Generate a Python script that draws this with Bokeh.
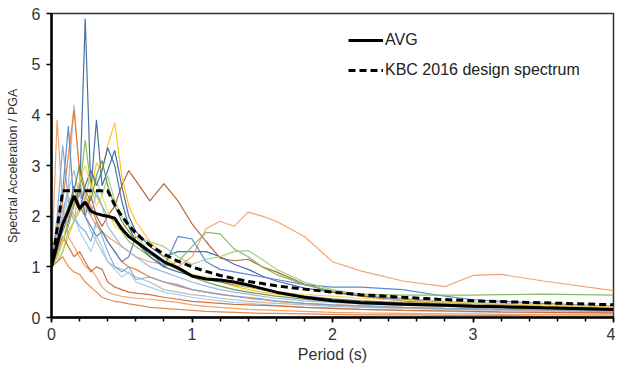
from bokeh.plotting import figure
from bokeh.models import Range1d, Legend, LegendItem, FixedTicker
from bokeh.embed import file_html
from bokeh.resources import INLINE

# Period grid (s)
period = [0, 0.04, 0.08, 0.12, 0.16, 0.2, 0.24, 0.28, 0.32, 0.36, 0.4, 0.45, 0.5, 0.55, 0.6,
          0.7, 0.8, 0.9, 1.0, 1.1, 1.2, 1.3, 1.4, 1.5, 1.6, 1.8, 2.0, 2.2, 2.5, 2.8, 3.0, 3.2, 3.5, 4.0]

# Individual ground-motion spectra (Sa / PGA)
gm01 = [1.0, 1.2, 1.5, 1.9, 2.3, 2.4, 5.9, 2.5, 3.9, 2.6, 2.9, 3.3, 2.6, 2.0, 1.7, 1.4, 1.2, 1.3, 1.3, 1.3,
        1.2, 1.05, 0.95, 0.82, 0.72, 0.58, 0.5, 0.43, 0.36, 0.3, 0.27, 0.25, 0.22, 0.18]
gm02 = [1.0, 1.3, 1.8, 2.2, 1.9, 2.6, 2.3, 2.0, 1.8, 1.7, 1.6, 1.5, 1.4, 1.3, 1.2, 1.1, 1.05, 1.0, 1.2, 1.75,
        1.9, 1.8, 2.08, 2.0, 1.9, 1.6, 1.1, 0.92, 0.72, 0.61, 0.83, 0.85, 0.72, 0.53]
gm03 = [1.0, 1.4, 1.9, 2.1, 2.6, 2.2, 2.0, 2.4, 2.0, 1.8, 2.0, 2.2, 2.6, 2.9, 2.7, 2.3, 2.64, 2.3, 1.85, 1.5,
        1.17, 1.12, 1.15, 1.0, 0.9, 0.66, 0.5, 0.42, 0.33, 0.27, 0.24, 0.22, 0.2, 0.16]
gm04 = [1.0, 1.1, 1.3, 1.6, 1.9, 2.2, 2.1, 2.5, 3.05, 2.9, 3.4, 3.84, 2.8, 2.2, 1.9, 1.5, 1.2, 1.0, 0.85, 0.75,
        0.7, 0.62, 0.55, 0.5, 0.46, 0.4, 0.36, 0.33, 0.3, 0.27, 0.25, 0.24, 0.22, 0.2]
gm05 = [1.0, 1.5, 2.0, 2.6, 4.2, 2.8, 2.0, 1.7, 1.5, 1.3, 1.1, 1.0, 0.95, 0.88, 0.8, 0.7, 0.55, 0.5, 0.45, 0.42,
        0.38, 0.35, 0.32, 0.3, 0.28, 0.25, 0.22, 0.2, 0.18, 0.16, 0.15, 0.14, 0.13, 0.11]
gm06 = [1.0, 1.6, 2.3, 3.2, 4.1, 2.9, 2.4, 2.2, 1.9, 1.7, 1.5, 1.3, 1.1, 1.0, 0.95, 0.8, 0.7, 0.62, 0.55, 0.5,
        0.46, 0.42, 0.38, 0.35, 0.32, 0.28, 0.25, 0.23, 0.2, 0.18, 0.17, 0.16, 0.15, 0.13]
gm07 = [1.0, 3.9, 2.2, 1.6, 1.4, 1.2, 1.0, 0.95, 0.8, 0.6, 0.5, 0.45, 0.42, 0.4, 0.38, 0.36, 0.33, 0.3, 0.25, 0.22,
        0.2, 0.18, 0.16, 0.15, 0.14, 0.12, 0.1, 0.09, 0.08, 0.07, 0.07, 0.06, 0.06, 0.05]
gm08 = [1.0, 1.8, 2.5, 3.78, 2.2, 2.6, 2.0, 1.8, 1.6, 1.7, 1.5, 1.3, 1.1, 1.2, 1.6, 1.3, 1.0, 1.6, 1.55, 1.1,
        0.95, 0.9, 0.85, 0.8, 0.75, 0.65, 0.6, 0.6, 0.55, 0.42, 0.35, 0.32, 0.28, 0.22]
gm09 = [1.0, 2.0, 3.4, 2.3, 2.0, 1.8, 1.7, 1.5, 1.9, 1.6, 1.3, 1.0, 0.9, 1.0, 0.75, 0.8, 0.7, 0.65, 0.55, 0.5,
        0.45, 0.42, 0.4, 0.37, 0.33, 0.28, 0.25, 0.23, 0.2, 0.18, 0.17, 0.16, 0.15, 0.13]
gm10 = [1.0, 1.2, 1.5, 1.8, 2.2, 2.5, 3.5, 2.6, 2.4, 2.2, 2.0, 1.9, 1.7, 1.5, 1.4, 1.2, 1.0, 1.1, 1.4, 1.68,
        1.65, 1.35, 1.2, 1.0, 0.85, 0.65, 0.52, 0.46, 0.44, 0.44, 0.44, 0.45, 0.46, 0.44]
gm11 = [1.0, 1.1, 1.3, 1.7, 1.9, 2.1, 2.3, 2.9, 2.7, 2.4, 2.8, 2.3, 2.0, 1.8, 1.6, 1.5, 1.4, 1.2, 1.05, 1.15,
        1.2, 1.3, 1.32, 1.15, 0.95, 0.7, 0.55, 0.45, 0.38, 0.32, 0.3, 0.28, 0.25, 0.22]
gm12 = [1.0, 1.4, 1.7, 2.0, 2.4, 2.1, 2.6, 2.9, 2.6, 2.9, 3.35, 3.0, 2.3, 1.8, 1.5, 1.2, 1.0, 0.9, 0.82, 0.75,
        0.7, 0.65, 0.6, 0.55, 0.5, 0.42, 0.37, 0.33, 0.29, 0.26, 0.24, 0.22, 0.2, 0.17]
gm13 = [1.0, 1.3, 1.9, 2.4, 2.0, 1.7, 1.5, 1.3, 1.6, 1.4, 1.1, 0.95, 0.8, 0.9, 0.7, 0.6, 0.5, 0.45, 0.4, 0.36,
        0.33, 0.3, 0.28, 0.26, 0.24, 0.2, 0.18, 0.16, 0.14, 0.12, 0.11, 0.1, 0.1, 0.08]
gm14 = [1.0, 1.1, 1.2, 1.0, 0.9, 0.85, 0.7, 0.6, 0.5, 0.4, 0.36, 0.32, 0.3, 0.27, 0.25, 0.2, 0.18, 0.16, 0.14, 0.12,
        0.11, 0.1, 0.09, 0.08, 0.08, 0.07, 0.06, 0.05, 0.05, 0.04, 0.04, 0.04, 0.03, 0.03]
gm15 = [1.0, 1.3, 1.6, 1.4, 1.2, 1.3, 1.1, 0.9, 1.0, 0.95, 0.7, 0.6, 0.55, 0.5, 0.48, 0.45, 0.4, 0.36, 0.32, 0.3,
        0.28, 0.26, 0.25, 0.24, 0.23, 0.2, 0.18, 0.16, 0.14, 0.13, 0.12, 0.11, 0.1, 0.09]
gm16 = [1.0, 1.2, 1.5, 2.0, 2.3, 2.7, 3.0, 2.6, 2.2, 2.4, 2.1, 1.8, 1.7, 1.9, 1.6, 1.3, 1.1, 0.95, 0.85, 0.8,
        0.72, 0.66, 0.6, 0.55, 0.5, 0.45, 0.42, 0.38, 0.34, 0.3, 0.28, 0.27, 0.25, 0.22]
gm17 = [1.0, 1.5, 2.1, 2.5, 2.9, 2.4, 2.2, 2.0, 2.5, 2.2, 1.8, 1.6, 1.4, 1.3, 1.2, 1.0, 0.9, 0.8, 0.7, 0.62,
        0.55, 0.5, 0.46, 0.42, 0.38, 0.33, 0.3, 0.27, 0.24, 0.22, 0.2, 0.19, 0.17, 0.15]
gm18 = [1.0, 1.3, 1.8, 2.2, 2.5, 3.0, 2.5, 2.3, 2.8, 3.1, 2.6, 2.2, 1.9, 1.7, 1.5, 1.25, 1.1, 0.95, 0.8, 0.7,
        0.62, 0.55, 0.5, 0.46, 0.42, 0.36, 0.32, 0.29, 0.26, 0.23, 0.21, 0.2, 0.18, 0.16]

records = [gm01, gm02, gm03, gm04, gm05, gm06, gm07, gm08, gm09, gm10, gm11, gm12, gm13, gm14, gm15, gm16, gm17, gm18]
record_colors = ["#3A5F9E", "#F29B62", "#A9582A", "#FFC000", "#B4B4B4", "#E9762B", "#F1975A", "#4A7CC8",
                 "#6FA7DB", "#7DB657", "#9CCB7E", "#3366A8", "#A6C8E8", "#DE7F45", "#C9652A", "#FFD24D",
                 "#8FB1E0", "#5E8E3A"]

# Mean spectrum
avg = [1.0, 1.45, 1.85, 2.1, 2.4, 2.15, 2.28, 2.1, 2.05, 2.02, 2.0, 1.96, 1.75, 1.6, 1.5, 1.3, 1.1, 0.98, 0.82, 0.76,
       0.74, 0.7, 0.64, 0.57, 0.5, 0.4, 0.33, 0.29, 0.26, 0.24, 0.22, 0.21, 0.19, 0.16]

# KBC 2016 design spectrum
design_T = [0, 0.08, 0.4, 0.45, 0.5, 0.55, 0.6, 0.65, 0.7, 0.8, 0.9, 1.0, 1.1, 1.2, 1.3, 1.4, 1.5, 1.6, 1.8,
            2.0, 2.2, 2.5, 2.75, 3.0, 3.25, 3.5, 3.75, 4.0]
design_Sa = [1.0, 2.5, 2.5, 2.22, 2.0, 1.82, 1.67, 1.54, 1.43, 1.25, 1.11, 1.0, 0.91, 0.83, 0.77, 0.71, 0.67,
             0.625, 0.56, 0.5, 0.45, 0.4, 0.36, 0.33, 0.31, 0.29, 0.27, 0.25]

x_ticks = [0, 1, 2, 3, 4]
y_ticks = [0, 1, 2, 3, 4, 5, 6]

FONT = "Liberation Sans"

p = figure(width=615, height=365, output_backend="svg", toolbar_location=None,
           x_range=Range1d(0, 4), y_range=Range1d(0, 6),
           min_border_left=51, min_border_right=2, min_border_top=13, min_border_bottom=45)

for rec, col in zip(records, record_colors):
    p.line(period, rec, line_color=col, line_width=1.2, line_alpha=0.9)

r_avg = p.line(period, avg, line_color="black", line_width=3)
r_des = p.line(design_T, design_Sa, line_color="black", line_width=3, line_dash="7 4")

legend = Legend(items=[LegendItem(label="AVG", renderers=[r_avg]),
                       LegendItem(label="KBC 2016 design spectrum", renderers=[r_des])],
                location=(297, 237), background_fill_alpha=0, border_line_alpha=0,
                glyph_width=35, glyph_height=20, label_height=20, spacing=10, padding=0, margin=0,
                label_text_font=FONT, label_text_font_size="16px", label_text_color="#222222",
                label_standoff=2)
p.add_layout(legend)

p.xgrid.visible = False
p.ygrid.visible = False
p.outline_line_color = "#333333"
p.outline_line_width = 1.5

p.xaxis.ticker = FixedTicker(ticks=x_ticks, minor_ticks=[0.2 * i for i in range(21)])
p.yaxis.ticker = FixedTicker(ticks=y_ticks, minor_ticks=[])
p.xaxis.axis_label = "Period (s)"
p.yaxis.axis_label = "Spectral Acceleration / PGA"
for ax in (p.xaxis, p.yaxis):
    ax.axis_line_width = 2.5
    ax.axis_line_color = "black"
    ax.major_tick_line_color = "black"
    ax.major_tick_line_width = 1.5
    ax.major_tick_in = 0
    ax.major_tick_out = 5
    ax.minor_tick_line_color = "black"
    ax.minor_tick_line_width = 1.5
    ax.minor_tick_in = 0
    ax.minor_tick_out = 4
    ax.major_label_text_font = FONT
    ax.major_label_text_font_size = "16px"
    ax.major_label_text_color = "#333333"
    ax.axis_label_text_font = FONT
    ax.axis_label_text_font_style = "normal"
    ax.axis_label_text_color = "#333333"
p.xaxis.axis_label_text_font_size = "16px"
p.yaxis.axis_label_text_font_size = "12.5px"
p.xaxis.major_label_standoff = 5
p.xaxis.axis_label_standoff = 3
p.yaxis.major_label_standoff = 6
p.yaxis.axis_label_standoff = 9

open("out.html", "w").write(file_html(p, INLINE))
